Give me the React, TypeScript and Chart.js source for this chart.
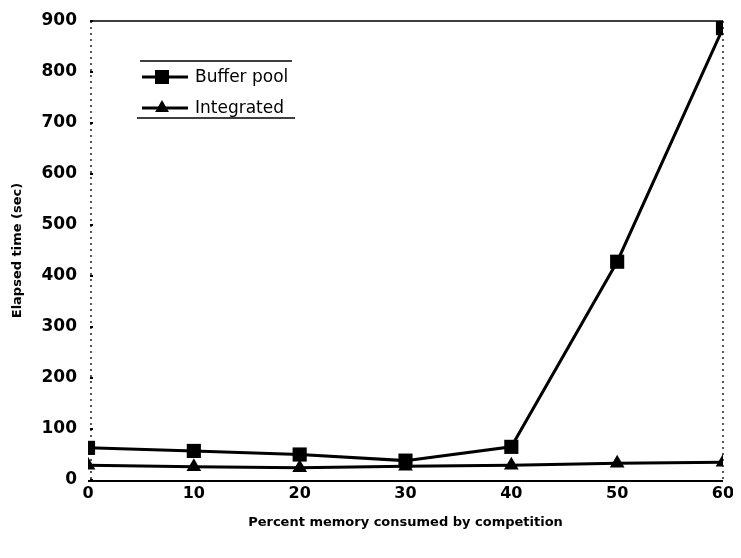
import React, { useEffect, useRef } from 'react';
import { Chart, registerables } from 'chart.js';

Chart.register(...registerables);

const percentMemory = [0, 10, 20, 30, 40, 50, 60];
const bufferPool = [63, 57, 50, 38, 65, 428, 886];
const integrated = [29, 26, 24, 27, 29, 33, 35];
const seriesNames = ['Buffer pool', 'Integrated'];
const xTitle = 'Percent memory consumed by competition';
const yTitle = 'Elapsed time (sec)';

const framePlugin = {
  id: 'frame',
  beforeDatasetsDraw(chart: any) {
    const { ctx, chartArea } = chart;
    const { left, right, top, bottom } = chartArea;
    ctx.save();
    ctx.strokeStyle = '#000';
    ctx.lineWidth = 1.6;
    ctx.beginPath();
    ctx.moveTo(left + 3, top);
    ctx.lineTo(right, top);
    ctx.stroke();
    ctx.lineWidth = 2;
    ctx.beginPath();
    ctx.moveTo(left, bottom + 1);
    ctx.lineTo(right, bottom + 1);
    ctx.stroke();
    ctx.lineWidth = 1.3;
    ctx.setLineDash([2, 4]);
    ctx.beginPath();
    ctx.moveTo(left + 3, top);
    ctx.lineTo(left + 3, bottom);
    ctx.moveTo(right, top);
    ctx.lineTo(right, bottom);
    ctx.stroke();
    ctx.setLineDash([]);
    const y = chart.scales.y;
    y.ticks.forEach((t: any) => {
      const py = y.getPixelForValue(t.value);
      ctx.fillStyle = '#000';
      ctx.fillRect(left + 2, py - 1, 3, 2);
    });
    ctx.restore();
  },
};

const legendPlugin = {
  id: 'boxLegend',
  afterDraw(chart: any) {
    const { ctx, chartArea } = chart;
    const { left, top } = chartArea;
    ctx.save();
    ctx.strokeStyle = '#000';
    ctx.fillStyle = '#000';
    ctx.lineWidth = 1.5;
    ctx.beginPath();
    ctx.moveTo(left + 52, top + 40);
    ctx.lineTo(left + 204, top + 40);
    ctx.moveTo(left + 49, top + 97);
    ctx.lineTo(left + 207, top + 97);
    ctx.stroke();
    chart.data.datasets.forEach((ds: any, i: number) => {
      const cy = top + 56 + i * 31;
      const cx = left + 74;
      ctx.lineWidth = 3;
      ctx.beginPath();
      ctx.moveTo(left + 54, cy);
      ctx.lineTo(left + 100, cy);
      ctx.stroke();
      if (ds.pointStyle === 'rect') {
        ctx.fillRect(cx - 7, cy - 7, 14, 14);
      } else {
        const r = 8;
        ctx.beginPath();
        ctx.moveTo(cx, cy - r);
        ctx.lineTo(cx + r * 0.866, cy + r * 0.5);
        ctx.lineTo(cx - r * 0.866, cy + r * 0.5);
        ctx.closePath();
        ctx.fill();
      }
      ctx.font = '17px "DejaVu Sans"';
      ctx.textBaseline = 'middle';
      ctx.textAlign = 'left';
      ctx.fillText(ds.label, left + 107, cy + 1);
    });
    ctx.restore();
  },
};

export default function App() {
  const ref = useRef<HTMLCanvasElement | null>(null);
  useEffect(() => {
    if (!ref.current) return;
    const chart = new Chart(ref.current, {
      type: 'line',
      data: {
        datasets: [
          {
            label: seriesNames[0],
            data: percentMemory.map((x, i) => ({ x, y: bufferPool[i] })),
            borderColor: '#000',
            backgroundColor: '#000',
            borderWidth: 3,
            pointStyle: 'rect',
            pointRadius: 10,
            pointBorderWidth: 0,
            tension: 0,
          },
          {
            label: seriesNames[1],
            data: percentMemory.map((x, i) => ({ x, y: integrated[i] })),
            borderColor: '#000',
            backgroundColor: '#000',
            borderWidth: 3,
            pointStyle: 'triangle',
            pointRadius: 8.5,
            pointBorderWidth: 0,
            tension: 0,
          },
        ],
      },
      options: {
        responsive: false,
        animation: false,
        layout: { padding: { top: 13, right: 6, left: 0, bottom: 0 } },
        plugins: { legend: { display: false }, tooltip: { enabled: false } },
        scales: {
          x: {
            type: 'linear',
            min: 0,
            max: 60,
            grid: { display: false, drawTicks: false },
            border: { display: false },
            ticks: {
              stepSize: 10,
              color: '#000',
              padding: 4,
              font: { family: 'DejaVu Sans', weight: 'bold', size: 16 },
            },
            title: {
              display: true,
              text: xTitle,
              color: '#000',
              font: { family: 'DejaVu Sans', weight: 'bold', size: 13 },
              padding: { top: 0, bottom: 20 },
            },
            afterFit: (s: any) => {
              s.height = 70;
              s.paddingLeft = 0;
              s.paddingRight = 0;
            },
          },
          y: {
            min: 0,
            max: 900,
            grid: { display: false, drawTicks: false },
            border: { display: false },
            ticks: {
              stepSize: 100,
              color: '#000',
              padding: 11,
              font: { family: 'DejaVu Sans', weight: 'bold', size: 17 },
            },
            title: {
              display: true,
              text: yTitle,
              color: '#000',
              font: { family: 'DejaVu Sans', weight: 'bold', size: 13 },
              padding: { top: 2, bottom: 0 },
            },
            afterFit: (s: any) => {
              s.width = 80;
              s.paddingTop = 0;
              s.paddingBottom = 0;
            },
          },
        },
      },
      plugins: [framePlugin, legendPlugin],
    });
    return () => chart.destroy();
  }, []);
  return (
    <div style={{ width: 725, height: 542 }}>
      <canvas ref={ref} width={725} height={542} style={{ display: 'block' }} />
    </div>
  );
}
